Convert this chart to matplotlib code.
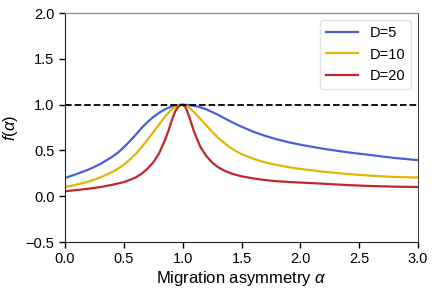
import matplotlib
matplotlib.use('Agg')
import matplotlib.pyplot as plt

plt.rcParams['font.family'] = ['Liberation Sans', 'DejaVu Sans']
plt.rcParams['mathtext.fontset'] = 'custom'
plt.rcParams['mathtext.it'] = 'Liberation Sans:italic'
plt.rcParams['mathtext.rm'] = 'Liberation Sans'

# values
alpha_d5 = [0.0, 0.1, 0.2, 0.3, 0.4, 0.45, 0.5, 0.55, 0.6, 0.65, 0.7, 0.75, 0.8, 0.85,
            0.9, 0.95, 1.0, 1.05, 1.1, 1.15, 1.2, 1.25, 1.3, 1.35, 1.4, 1.45, 1.5,
            1.6, 1.7, 1.8, 1.9, 2.0, 2.2, 2.4, 2.6, 2.8, 3.0]
f_d5 = [0.200, 0.243, 0.292, 0.352, 0.430, 0.477, 0.535, 0.60, 0.67, 0.745, 0.81,
        0.865, 0.912, 0.95, 0.978, 0.995, 1.0, 0.997, 0.988, 0.972, 0.95, 0.92, 0.89,
        0.855, 0.822, 0.79, 0.76, 0.705, 0.66, 0.622, 0.59, 0.563, 0.518, 0.48, 0.45,
        0.418, 0.395]

alpha_d10 = [0.0, 0.1, 0.2, 0.3, 0.4, 0.45, 0.5, 0.55, 0.6, 0.65, 0.7, 0.75, 0.8, 0.85,
             0.9, 0.95, 1.0, 1.05, 1.1, 1.15, 1.2, 1.25, 1.3, 1.35, 1.4, 1.45, 1.5,
             1.6, 1.7, 1.8, 1.9, 2.0, 2.2, 2.4, 2.6, 2.8, 3.0]
f_d10 = [0.10, 0.128, 0.16, 0.205, 0.265, 0.30, 0.345, 0.40, 0.46, 0.535, 0.615, 0.70,
         0.785, 0.87, 0.94, 0.985, 1.0, 0.975, 0.915, 0.845, 0.775, 0.705, 0.64, 0.585,
         0.535, 0.495, 0.46, 0.41, 0.37, 0.342, 0.318, 0.298, 0.268, 0.243, 0.225,
         0.211, 0.205]

alpha_d20 = [0.0, 0.1, 0.2, 0.3, 0.4, 0.5, 0.55, 0.6, 0.65, 0.7, 0.75, 0.8, 0.85, 0.88,
             0.9, 0.92, 0.94, 0.96, 0.98, 1.0, 1.02, 1.04, 1.06, 1.08, 1.1, 1.15, 1.2,
             1.25, 1.3, 1.35, 1.4, 1.45, 1.5, 1.6, 1.7, 1.8, 1.9, 2.0, 2.2, 2.4, 2.6,
             2.8, 3.0]
f_d20 = [0.055, 0.068, 0.083, 0.10, 0.125, 0.155, 0.178, 0.205, 0.245, 0.30, 0.37,
         0.47, 0.615, 0.72, 0.80, 0.875, 0.935, 0.975, 0.995, 1.0, 0.98, 0.925, 0.85,
         0.77, 0.695, 0.54, 0.44, 0.37, 0.318, 0.282, 0.255, 0.235, 0.218, 0.195,
         0.177, 0.164, 0.157, 0.150, 0.137, 0.122, 0.112, 0.105, 0.101]

labels = ['D=5', 'D=10', 'D=20']
colors = ['#4a5fd8', '#e3b505', '#c0272d']

fig = plt.figure(figsize=(4.36, 2.92), dpi=100)
ax = fig.add_axes([0.149, 0.171, 0.810, 0.784])

curves = [(alpha_d5, f_d5), (alpha_d10, f_d10), (alpha_d20, f_d20)]
for (xs, ys), lab, c in zip(curves, labels, colors):
    ax.plot(xs, ys, color=c, lw=1.6, label=lab)

ax.axhline(1.0, color='black', lw=1.3, ls='--')

ax.set_xlim(0, 3)
ax.set_ylim(-0.5, 2.0)
ax.set_xticks([0.0, 0.5, 1.0, 1.5, 2.0, 2.5, 3.0])
ax.set_yticks([-0.5, 0.0, 0.5, 1.0, 1.5, 2.0])
ax.tick_params(labelsize=10.5, length=4, width=1, direction='out')
ax.set_xlabel(r'Migration asymmetry $\alpha$', fontsize=12, labelpad=2)
ax.set_ylabel(r'$f(\alpha)$', fontsize=12, labelpad=4)

for side in ['left', 'bottom']:
    ax.spines[side].set_color('#222222')
ax.spines['right'].set_color('#444444')
ax.spines['top'].set_color('#888888')

ax.legend(loc='upper right', fontsize=10.5, frameon=True, edgecolor='#dddddd',
          handlelength=2.2, borderaxespad=0.5)

fig.savefig('out.png', dpi=100)
